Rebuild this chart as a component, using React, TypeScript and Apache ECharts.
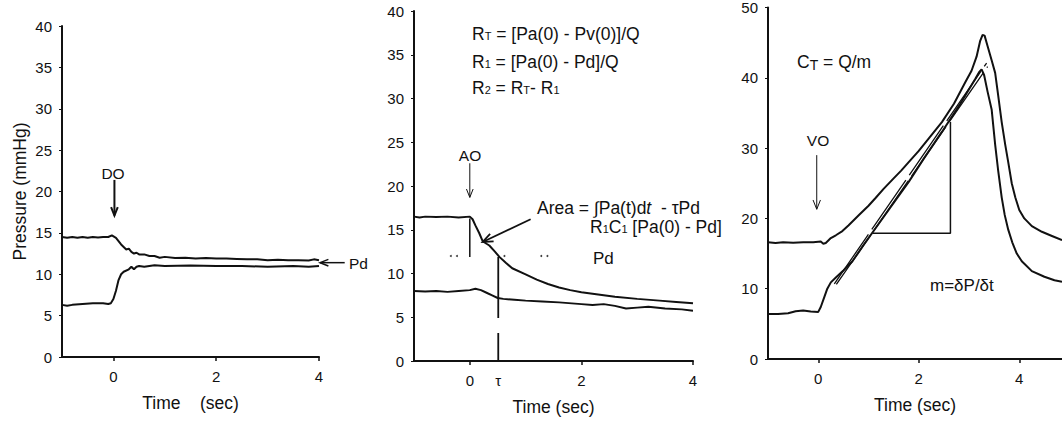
import React, { useEffect, useRef } from "react";
import * as echarts from "echarts";

// ---------- data (time in sec, pressure in mmHg) ----------
const leftUpper: number[][] = [
  [-1, 14.5], [-0.9, 14.4], [-0.8, 14.5], [-0.7, 14.4], [-0.6, 14.5], [-0.5, 14.4], [-0.4, 14.5],
  [-0.3, 14.45], [-0.2, 14.5], [-0.1, 14.5], [-0.03, 14.7], [0.05, 14.4], [0.1, 14.0], [0.15, 13.6],
  [0.2, 13.3], [0.25, 13.0], [0.3, 13.1], [0.35, 12.7], [0.4, 12.5], [0.45, 12.6], [0.5, 12.4],
  [0.6, 12.4], [0.7, 12.2], [0.8, 12.2], [0.9, 12.0], [1.0, 12.1], [1.2, 11.95], [1.4, 12.0],
  [1.6, 11.9], [1.8, 11.95], [2.0, 11.9], [2.2, 11.9], [2.4, 11.85], [2.6, 11.8], [2.8, 11.8],
  [3.0, 11.7], [3.2, 11.75], [3.4, 11.7], [3.6, 11.7], [3.8, 11.65], [3.9, 11.8], [4.0, 11.7],
];
const leftLower: number[][] = [
  [-1, 6.3], [-0.9, 6.2], [-0.8, 6.3], [-0.6, 6.4], [-0.4, 6.5], [-0.2, 6.5], [-0.1, 6.4],
  [-0.05, 6.5], [0.0, 7.0], [0.05, 8.0], [0.1, 9.3], [0.15, 10.0], [0.2, 10.3], [0.3, 10.6],
  [0.35, 10.9], [0.4, 10.6], [0.45, 10.9], [0.5, 11.0], [0.6, 10.9], [0.7, 11.0], [0.8, 11.1],
  [1.0, 11.0], [1.5, 11.05], [2.0, 11.0], [2.5, 11.0], [3.0, 10.9], [3.5, 11.0], [3.8, 10.9], [4.0, 11.0],
];
const midUpper: number[][] = [
  [-1, 16.5], [-0.9, 16.4], [-0.8, 16.5], [-0.6, 16.45], [-0.4, 16.5], [-0.2, 16.4], [0, 16.5],
  [0.05, 16.2], [0.1, 15.5], [0.17, 14.6], [0.23, 13.7], [0.3, 13.4], [0.35, 13.2], [0.45, 12.5],
  [0.53, 11.9], [0.65, 11.2], [0.76, 10.6], [1.0, 9.9], [1.2, 9.3], [1.4, 8.8], [1.6, 8.4],
  [1.8, 8.1], [2.0, 7.85], [2.3, 7.6], [2.6, 7.35], [3.0, 7.1], [3.4, 6.9], [3.7, 6.75], [4.0, 6.6],
];
const midLower: number[][] = [
  [-1, 8.0], [-0.8, 7.95], [-0.6, 8.0], [-0.4, 7.9], [-0.2, 8.0], [0, 8.1], [0.1, 8.25], [0.2, 8.1],
  [0.3, 7.8], [0.4, 7.5], [0.5, 7.2], [0.6, 7.1], [0.8, 7.0], [1.0, 6.9], [1.3, 6.8], [1.6, 6.7],
  [2.0, 6.5], [2.2, 6.4], [2.4, 6.5], [2.6, 6.3], [2.8, 6.0], [3.0, 6.1], [3.2, 6.2], [3.5, 6.0],
  [3.8, 5.9], [4.0, 5.75],
];
const rightUpper: number[][] = [
  [-1, 16.6], [-0.85, 16.5], [-0.7, 16.6], [-0.5, 16.55], [-0.3, 16.6], [-0.1, 16.6], [0.05, 16.7],
  [0.1, 16.4], [0.15, 16.5], [0.25, 17.2], [0.35, 17.6], [0.48, 18.2], [0.6, 19.0], [0.8, 20.4],
  [1.0, 21.8], [1.14, 22.9], [1.3, 24.2], [1.5, 25.7], [1.65, 26.8], [1.8, 28.0], [2.0, 29.6],
  [2.2, 31.4], [2.46, 33.7], [2.7, 36.3], [2.92, 39.3], [3.05, 41.0], [3.15, 43.0], [3.22, 45.2],
  [3.27, 46.1], [3.31, 46.0], [3.37, 44.5], [3.45, 42.5], [3.52, 40.7], [3.58, 37.5], [3.65, 33.7],
  [3.72, 30.5], [3.78, 28.0], [3.85, 25.0], [3.92, 23.0], [4.0, 21.2], [4.1, 20.0], [4.25, 18.9],
  [4.45, 18.1], [4.65, 17.5], [4.85, 16.9],
];
const rightLower: number[][] = [
  [-1, 6.4], [-0.8, 6.4], [-0.6, 6.5], [-0.45, 6.8], [-0.3, 6.9], [-0.15, 6.75], [0, 6.7],
  [0.05, 7.4], [0.12, 8.8], [0.18, 10.0], [0.25, 10.9], [0.35, 11.6], [0.5, 12.6], [0.68, 13.9],
  [0.9, 16.2], [1.14, 18.6], [1.4, 21.2], [1.6, 23.2], [1.8, 25.2], [2.1, 28.5], [2.46, 32.3],
  [2.8, 36.0], [3.12, 39.8], [3.2, 40.8], [3.25, 41.2], [3.3, 40.4], [3.37, 38.0], [3.45, 35.5],
  [3.52, 30.5], [3.58, 26.8], [3.65, 23.0], [3.71, 20.5], [3.78, 18.4], [3.86, 16.6], [3.95, 15.0],
  [4.05, 13.9], [4.25, 12.5], [4.5, 11.7], [4.7, 11.2], [4.85, 11.0],
];

// annotation values
const tau = 0.51;
const pdMid = 12.0;
const pdDotTimes = [-0.34, -0.23, 0.62, 1.28, 1.39];
const aoDrop: number[][] = [[0, 16.3], [0, 11.9]];
const tauLine: number[][] = [[tau, 11.9], [tau, 0]];
const tangentA: number[][] = [[0.32, 10.7], [3.35, 42.1]];
const tangentB: number[][] = [[0.36, 10.6], [3.37, 41.6]];
const triangle: number[][] = [[1.08, 17.9], [2.63, 17.9], [2.63, 33.7]];

const doArrow = { from: [0.02, 21.4], to: [0.02, 17.1] };
const pdArrow = { from: [4.5, 11.4], to: [4.02, 11.4] };
const aoArrow = { from: [0, 22.6], to: [0, 18.7] };
const areaArrow = { from: [1.09, 16.2], to: [0.23, 13.6] };
const voArrow = { from: [-0.03, 29.0], to: [-0.03, 21.3] };

const xTicks = [0, 2, 4];
const midXLabels = [0, tau, 2, 4];

const FONT = "'Liberation Sans', Arial, Helvetica, sans-serif";
const INK = "#111";

export default function App() {
  const ref = useRef<HTMLDivElement>(null);
  useEffect(() => {
    if (!ref.current) return;
    const chart = echarts.init(ref.current, null, { renderer: "svg" });

    const grids = [
      { left: 62, top: 26, width: 257, height: 331 },
      { left: 414, top: 11, width: 279, height: 350 },
      { left: 768, top: 4, width: 295, height: 355 },
    ];

    const mkX = (i: number, max: number, labels: number[], name: string) => ({
      type: "value",
      gridIndex: i,
      min: -1,
      max,
      axisLine: { show: true, onZero: false, lineStyle: { color: INK, width: 2 } },
      axisTick: { show: true, customValues: xTicks, length: 4, lineStyle: { color: INK, width: 1.5 } },
      axisLabel: {
        customValues: labels,
        formatter: (v: number) => (Math.abs(v - tau) < 1e-6 ? "τ" : String(v)),
        fontSize: 15,
        color: INK,
        fontFamily: FONT,
        margin: 12,
      },
      splitLine: { show: false },
      name,
      nameLocation: "middle",
      nameGap: 37,
      nameTextStyle: { fontSize: 17.5, color: INK, fontFamily: FONT },
    });

    const mkY = (i: number, max: number, interval: number, name?: string) => ({
      type: "value",
      gridIndex: i,
      min: 0,
      max,
      interval,
      axisLine: { show: true, onZero: false, lineStyle: { color: INK, width: 2 } },
      axisTick: { show: true, length: 3, lineStyle: { color: INK, width: 1 } },
      axisLabel: { fontSize: 15, color: INK, fontFamily: FONT, margin: 10 },
      splitLine: { show: false },
      name: name || "",
      nameLocation: "middle",
      nameGap: 33,
      nameTextStyle: { fontSize: 17.5, color: INK, fontFamily: FONT },
    });

    const line = (i: number, data: number[][], width = 2, type: any = "solid") => ({
      type: "line",
      xAxisIndex: i,
      yAxisIndex: i,
      data,
      showSymbol: false,
      symbol: "none",
      silent: true,
      lineStyle: { color: INK, width, type },
    });

    chart.setOption({
      animation: false,
      backgroundColor: "#fff",
      grid: grids,
      xAxis: [
        mkX(0, 4, xTicks, "Time    (sec)"),
        mkX(1, 4, midXLabels, "Time (sec)"),
        mkX(2, 4.85, xTicks, "Time (sec)"),
      ],
      yAxis: [mkY(0, 40, 5, "Pressure (mmHg)"), mkY(1, 40, 5), mkY(2, 50, 10)],
      series: [
        line(0, leftUpper),
        line(0, leftLower),
        line(1, midUpper),
        line(1, midLower),
        line(1, aoDrop, 1.5),
        line(1, tauLine, 1.8, [61, 15]),
        {
          type: "scatter",
          xAxisIndex: 1,
          yAxisIndex: 1,
          data: pdDotTimes.map((t) => [t, pdMid]),
          symbolSize: 2,
          itemStyle: { color: INK },
          silent: true,
        },
        line(2, rightUpper),
        line(2, rightLower),
        line(2, tangentA, 1.3, [60, 6]),
        line(2, tangentB, 1.3, [60, 6]),
        line(2, triangle, 1.5),
      ],
    });

    const px = (g: number, pt: number[]) =>
      chart.convertToPixel({ xAxisIndex: g, yAxisIndex: g } as any, pt) as number[];

    const arrow = (g: number, a0: { from: number[]; to: number[] }, width: number, head: number) => {
      const a = px(g, a0.from);
      const b = px(g, a0.to);
      const ang = Math.atan2(b[1] - a[1], b[0] - a[0]);
      const s = 0.38;
      const p1 = [b[0] - head * Math.cos(ang - s), b[1] - head * Math.sin(ang - s)];
      const p2 = [b[0] - head * Math.cos(ang + s), b[1] - head * Math.sin(ang + s)];
      return [
        { type: "line", shape: { x1: a[0], y1: a[1], x2: b[0], y2: b[1] }, style: { stroke: INK, lineWidth: width } },
        { type: "polyline", shape: { points: [p1, b, p2] }, style: { stroke: INK, lineWidth: width, fill: null } },
      ];
    };

    const txt = (x: number, y: number, text: string, size = 17.5, align = "left") => ({
      type: "text",
      style: {
        x,
        y,
        text,
        fill: INK,
        font: `${size}px ${FONT}`,
        fontSize: size,
        fontFamily: FONT,
        align,
        textAlign: align,
        verticalAlign: "middle",
        textVerticalAlign: "middle",
      },
    });

    const rich = {
      r: { fontSize: 17.5, fontFamily: FONT, color: INK, lineHeight: 20 },
      s: { fontSize: 11, fontFamily: FONT, color: INK, lineHeight: 20, verticalAlign: "middle", padding: [3, 0, 0, 0] },
      t: { fontSize: 14, fontFamily: FONT, color: INK, lineHeight: 10, verticalAlign: "bottom" },
      i: { fontSize: 17.5, fontFamily: FONT, color: INK, lineHeight: 20, fontStyle: "italic" },
    };
    const rtxt = (x: number, y: number, text: string) => ({
      type: "text",
      style: { x, y, text, rich, fill: INK, verticalAlign: "middle", textVerticalAlign: "middle", font: `17.5px ${FONT}` },
    });

    chart.setOption({
      graphic: [
        ...arrow(0, doArrow, 2, 9),
        ...arrow(0, pdArrow, 1.5, 9),
        ...arrow(1, aoArrow, 1, 9),
        ...arrow(1, areaArrow, 1.8, 11),
        ...arrow(2, voArrow, 1, 10),
        txt(113, 173, "DO", 15.5, "center"),
        txt(349, 263, "Pd", 15.5),
        txt(470, 155, "AO", 15.5, "center"),
        txt(818, 140, "VO", 15.5, "center"),
        rtxt(472, 34, "{r|R}{s|T}{r| = [Pa(0) - Pv(0)]/Q}"),
        rtxt(472, 62, "{r|R}{s|1}{r| = [Pa(0) - Pd]/Q}"),
        rtxt(472, 88, "{r|R}{s|2}{r| = R}{s|T}{r|- R}{s|1}"),
        rtxt(537, 208, "{r|Area = ∫Pa(t)d}{i|t}{r|  - τPd}"),
        rtxt(590, 227, "{r|R}{s|1}{r|C}{s|1}{r| [Pa(0) - Pd]}"),
        txt(593, 258, "Pd", 17),
        rtxt(797, 62, "{r|C}{t|T}{r| = Q/m}"),
        txt(930, 285, "m=δP/δt", 17),
      ],
    });

    return () => chart.dispose();
  }, []);
  return (
    <div
      ref={ref}
      style={{ position: "fixed", left: 0, top: 0, width: 1062, height: 423, background: "#fff" }}
    />
  );
}
